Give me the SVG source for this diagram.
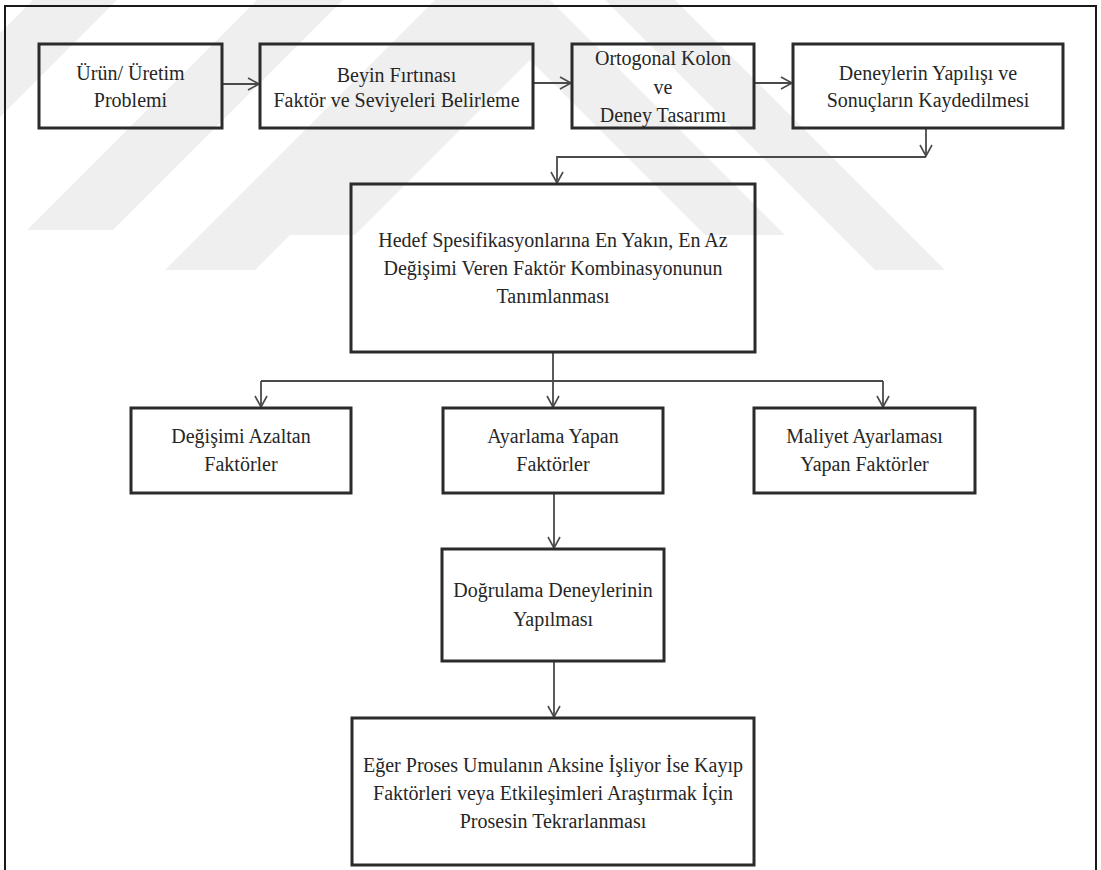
<svg xmlns="http://www.w3.org/2000/svg" width="1101" height="870" viewBox="0 0 1101 870">
  <defs>
    <style>
      .box { fill: none; stroke: #2b2b2b; stroke-width: 3; }
      .lbl { font-family: "Liberation Serif", "Times New Roman", serif; font-size: 20px; fill: #262626; text-anchor: middle; }
      .link { fill: none; stroke: #4a4a4a; stroke-width: 1.8; }
      .band { fill: #efefef; }
    </style>
    <marker id="arrow" markerUnits="userSpaceOnUse" markerWidth="14" markerHeight="14" viewBox="-12 -7 14 14" refX="0" refY="0" orient="auto">
      <path d="M-11,-6 L0,0 L-11,6" fill="none" stroke="#4a4a4a" stroke-width="1.6"/>
    </marker>
  </defs>

  <rect width="1101" height="870" fill="#ffffff"/>

  <!-- faint chevron watermark behind the chart -->
  <g id="watermark">
    <polygon class="band" points="530,-20 785,235 705,235 530,60 355,235 275,235"/>
    <polygon class="band" points="555,-120 945,270 875,270 565,-40 255,270 165,270"/>
    <polygon class="band" points="257,0 343,0 113,230 27,230"/>
    <polygon class="band" points="33,0 117,0 0,117 0,33"/>
  </g>

  <!-- page frame -->
  <path d="M5,872 L5,6 L1096,6 L1096,872" fill="none" stroke="#1a1a1a" stroke-width="2"/>

  <g id="connectors">
    <line class="link" x1="222" y1="84" x2="259" y2="84" marker-end="url(#arrow)"/>
    <line class="link" x1="533" y1="83" x2="571" y2="83" marker-end="url(#arrow)"/>
    <line class="link" x1="754" y1="83" x2="792" y2="83" marker-end="url(#arrow)"/>
    <line class="link" x1="926" y1="128" x2="926" y2="156" marker-end="url(#arrow)"/>
    <polyline class="link" points="926,157 557,157 557,183" marker-end="url(#arrow)"/>
    <line class="link" x1="553" y1="352" x2="553" y2="381"/>
    <line class="link" x1="261" y1="381" x2="883" y2="381"/>
    <line class="link" x1="261" y1="381" x2="261" y2="407" marker-end="url(#arrow)"/>
    <line class="link" x1="553" y1="381" x2="553" y2="407" marker-end="url(#arrow)"/>
    <line class="link" x1="883" y1="381" x2="883" y2="407" marker-end="url(#arrow)"/>
    <line class="link" x1="554" y1="493" x2="554" y2="548" marker-end="url(#arrow)"/>
    <line class="link" x1="554" y1="661" x2="554" y2="717" marker-end="url(#arrow)"/>
  </g>

  <g id="n-problem">
    <rect class="box" x="39" y="44" width="183" height="84"/>
    <text class="lbl" x="130.5" y="80">Ürün/ Üretim</text>
    <text class="lbl" x="130.5" y="107">Problemi</text>
  </g>

  <g id="n-brainstorm">
    <rect class="box" x="260" y="44" width="273" height="84"/>
    <text class="lbl" x="396.5" y="82">Beyin Fırtınası</text>
    <text class="lbl" x="396.5" y="107">Faktör ve Seviyeleri Belirleme</text>
  </g>

  <g id="n-orthogonal">
    <rect class="box" x="572" y="44" width="182" height="84"/>
    <text class="lbl" x="663" y="65">Ortogonal Kolon</text>
    <text class="lbl" x="663" y="94">ve</text>
    <text class="lbl" x="663" y="122">Deney Tasarımı</text>
  </g>

  <g id="n-experiments">
    <rect class="box" x="793" y="44" width="270" height="84"/>
    <text class="lbl" x="928" y="80">Deneylerin Yapılışı ve</text>
    <text class="lbl" x="928" y="107">Sonuçların Kaydedilmesi</text>
  </g>

  <g id="n-combination">
    <rect class="box" x="351" y="184" width="404" height="168"/>
    <text class="lbl" x="553" y="247">Hedef Spesifikasyonlarına En Yakın, En Az</text>
    <text class="lbl" x="553" y="275">Değişimi Veren Faktör Kombinasyonunun</text>
    <text class="lbl" x="553" y="303">Tanımlanması</text>
  </g>

  <g id="n-variation">
    <rect class="box" x="131" y="408" width="220" height="85"/>
    <text class="lbl" x="241" y="443">Değişimi Azaltan</text>
    <text class="lbl" x="241" y="471">Faktörler</text>
  </g>

  <g id="n-adjusting">
    <rect class="box" x="443" y="408" width="220" height="85"/>
    <text class="lbl" x="553" y="443">Ayarlama Yapan</text>
    <text class="lbl" x="553" y="471">Faktörler</text>
  </g>

  <g id="n-cost">
    <rect class="box" x="754" y="408" width="221" height="85"/>
    <text class="lbl" x="864.5" y="443">Maliyet Ayarlaması</text>
    <text class="lbl" x="864.5" y="471">Yapan Faktörler</text>
  </g>

  <g id="n-verification">
    <rect class="box" x="442" y="549" width="222" height="112"/>
    <text class="lbl" x="553" y="597">Doğrulama Deneylerinin</text>
    <text class="lbl" x="553" y="626">Yapılması</text>
  </g>

  <g id="n-repeat">
    <rect class="box" x="352" y="718" width="402" height="147"/>
    <text class="lbl" x="553" y="772">Eğer Proses Umulanın Aksine İşliyor İse Kayıp</text>
    <text class="lbl" x="553" y="800">Faktörleri veya Etkileşimleri Araştırmak İçin</text>
    <text class="lbl" x="553" y="828">Prosesin Tekrarlanması</text>
  </g>
</svg>
